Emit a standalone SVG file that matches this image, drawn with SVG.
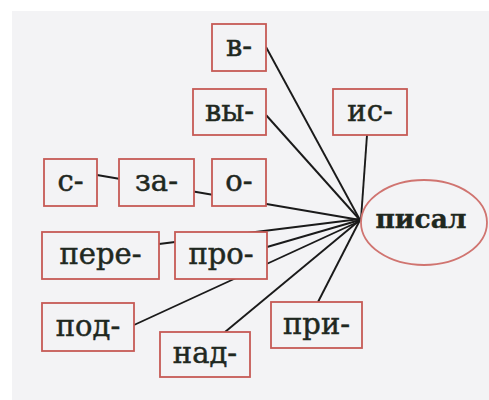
<svg xmlns="http://www.w3.org/2000/svg" width="489" height="400" viewBox="0 0 489 400">
<style>
.box{fill:#f3f3f5;stroke:#c65a56;stroke-width:1.8}
.lbl{font-family:"DejaVu Serif","Liberation Serif",serif;font-size:29px;fill:#1f281f;stroke:#1f281f;stroke-width:0.5;text-anchor:middle}
.main{font-family:"DejaVu Serif","Liberation Serif",serif;font-size:26.5px;font-weight:bold;fill:#1f281f;stroke:#1f281f;stroke-width:0.4;text-anchor:middle}
.con line{stroke:#1a1a1a;stroke-width:1.9}
</style>
<rect x="0" y="0" width="489" height="400" fill="#ffffff"/>
<rect x="12" y="11" width="477" height="389" fill="#f3f3f5"/>
<g id="connectors" class="con">
<line x1="266" y1="47" x2="360" y2="220"/>
<line x1="266" y1="115" x2="360" y2="220"/>
<line x1="367" y1="135" x2="361" y2="219"/>
<line x1="97" y1="175" x2="360" y2="220"/>
<line x1="159" y1="244" x2="360" y2="219"/>
<line x1="267" y1="247" x2="360" y2="220"/>
<line x1="134" y1="325" x2="360" y2="221"/>
<line x1="225" y1="332" x2="360" y2="220"/>
<line x1="318" y1="302" x2="360" y2="220"/>
</g>
<g id="v"><rect class="box" x="212" y="24" width="54" height="47"/><text class="lbl" x="239" y="56">в-</text></g>
<g id="vy"><rect class="box" x="193" y="89" width="73" height="46"/><text class="lbl" x="229.5" y="120.5">вы-</text></g>
<g id="is"><rect class="box" x="333" y="89" width="74" height="46"/><text class="lbl" x="370" y="120.5">ис-</text></g>
<g id="s"><rect class="box" x="44" y="159" width="53" height="47"/><text class="lbl" x="70.5" y="191">с-</text></g>
<g id="za"><rect class="box" x="119" y="159" width="75" height="47"/><text class="lbl" x="156.5" y="191">за-</text></g>
<g id="o"><rect class="box" x="212" y="159" width="54" height="47"/><text class="lbl" x="239" y="191">о-</text></g>
<g id="pere"><rect class="box" x="42" y="232" width="117" height="47"/><text class="lbl" x="100.5" y="264">пере-</text></g>
<g id="pro"><rect class="box" x="175" y="232" width="92" height="47"/><text class="lbl" x="221" y="264">про-</text></g>
<g id="pod"><rect class="box" x="42" y="303" width="92" height="48"/><text class="lbl" x="88" y="335.5">под-</text></g>
<g id="nad"><rect class="box" x="160" y="332" width="90" height="45"/><text class="lbl" x="205" y="363">над-</text></g>
<g id="pri"><rect class="box" x="271" y="302" width="91" height="46"/><text class="lbl" x="316.5" y="333.5">при-</text></g>
<g id="pisal"><ellipse cx="424" cy="222.5" rx="63" ry="42.5" fill="#f3f3f5" stroke="#d07470" stroke-width="1.8"/><text class="main" x="421" y="228">писал</text></g>
</svg>
